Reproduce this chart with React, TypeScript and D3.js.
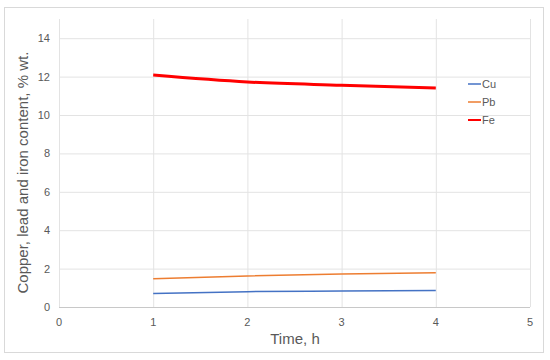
import React, { useRef, useEffect } from "react";
import * as d3 from "d3";

const times = [1, 2, 3, 4];
const cu = [0.7, 0.8, 0.83, 0.86];
const pb = [1.47, 1.62, 1.72, 1.78];
const fe = [12.08, 11.72, 11.55, 11.4];
const xTicks = [0, 1, 2, 3, 4, 5];
const yTicks = [0, 2, 4, 6, 8, 10, 12, 14];
const seriesNames = ["Cu", "Pb", "Fe"];
const seriesColors = ["#4472c4", "#ed7d31", "#ff0000"];
const seriesWidths = [1.5, 1.5, 3];

function Chart() {
    const svgRef = useRef<SVGSVGElement>(null);
    useEffect(() => {
        let svg = d3.select(svgRef.current);
        svg.selectChildren().remove();
        const font = "'Liberation Sans', Arial, sans-serif";

        svg.append("rect")
            .attr("x", 4.5).attr("y", 7.5)
            .attr("width", 539).attr("height", 345)
            .attr("fill", "white")
            .attr("stroke", "#d9d9d9");

        const xScale = d3.scaleLinear().domain([0, 5]).range([59, 530]);
        const yScale = d3.scaleLinear().domain([0, 15]).range([307, 19]);

        const grid = svg.append("g");
        yTicks.forEach(t => {
            grid.append("line")
                .attr("x1", xScale(0)).attr("x2", xScale(5))
                .attr("y1", yScale(t) + 0.5).attr("y2", yScale(t) + 0.5)
                .attr("stroke", t === 0 ? "#c8c8c8" : "#e3e3e3");
        });
        xTicks.forEach(t => {
            grid.append("line")
                .attr("x1", xScale(t) + 0.5).attr("x2", xScale(t) + 0.5)
                .attr("y1", yScale(15)).attr("y2", yScale(0))
                .attr("stroke", "#e3e3e3");
        });

        svg.append("g").selectAll("text").data(yTicks).join("text")
            .attr("x", 50).attr("y", d => yScale(d) + 4)
            .attr("text-anchor", "end")
            .attr("font-family", font).attr("font-size", 11)
            .attr("fill", "#595959")
            .text(d => d);

        svg.append("g").selectAll("text").data(xTicks).join("text")
            .attr("x", d => xScale(d)).attr("y", 326)
            .attr("text-anchor", "middle")
            .attr("font-family", font).attr("font-size", 11)
            .attr("fill", "#595959")
            .text(d => d);

        svg.append("text")
            .attr("x", 295).attr("y", 344)
            .attr("text-anchor", "middle")
            .attr("font-family", font).attr("font-size", 15)
            .attr("fill", "#595959")
            .text("Time, h");

        svg.append("text")
            .attr("transform", "translate(28," + yScale(7) + ") rotate(-90)")
            .attr("text-anchor", "middle")
            .attr("font-family", font).attr("font-size", 15)
            .attr("fill", "#595959")
            .text("Copper, lead and iron content, % wt.");

        const line = d3.line<number>()
            .x((d, i) => xScale(times[i]))
            .y(d => yScale(d))
            .curve(d3.curveMonotoneX);

        [cu, pb, fe].forEach((s, k) => {
            svg.append("path")
                .datum(s)
                .attr("fill", "none")
                .attr("stroke", seriesColors[k])
                .attr("stroke-width", seriesWidths[k])
                .attr("d", line);
        });

        const legend = svg.append("g");
        seriesNames.forEach((n, k) => {
            const y = 84 + k * 18;
            legend.append("line")
                .attr("x1", 468).attr("x2", 481)
                .attr("y1", y).attr("y2", y)
                .attr("stroke", seriesColors[k])
                .attr("stroke-width", k === 2 ? 2 : 1.5);
            legend.append("text")
                .attr("x", 482).attr("y", y + 4)
                .attr("font-family", font).attr("font-size", 11)
                .attr("fill", "#595959")
                .text(n);
        });
    }, []);
    return (
        <svg ref={svgRef} width={550} height={360}
            style={{ position: "absolute", left: 0, top: 0, display: "block" }}></svg>
    );
}

export default function App() {
    return <Chart />;
}
